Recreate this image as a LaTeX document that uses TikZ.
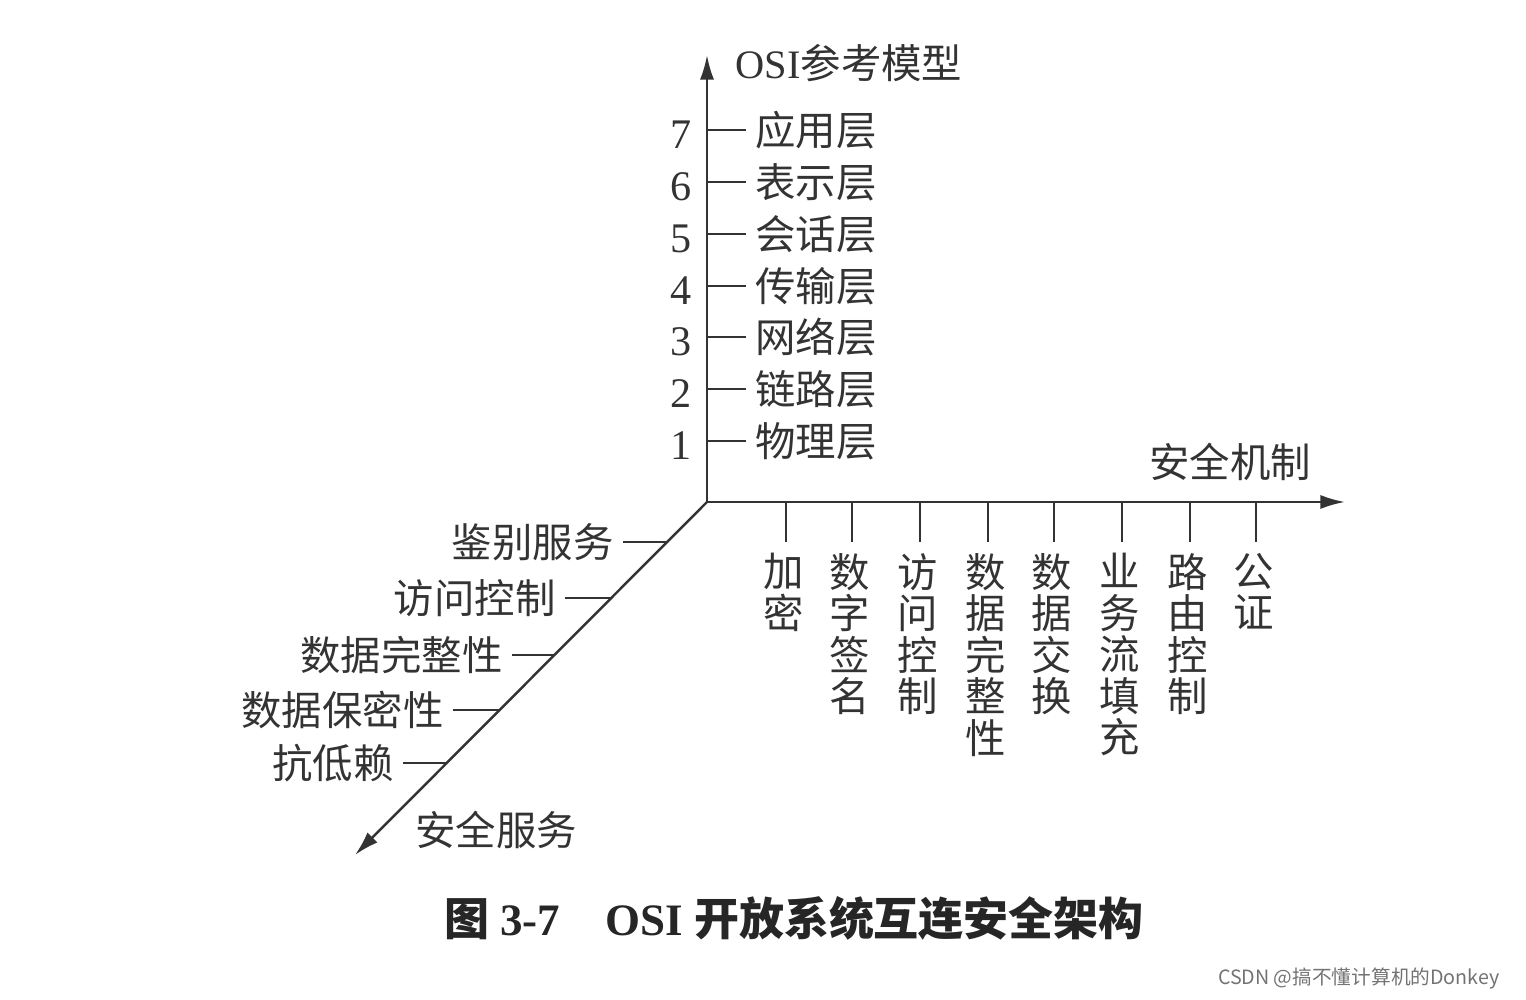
\documentclass[tikz,border=0pt]{standalone}
\usepackage{fontspec}
\setmainfont{Liberation Serif}
\newfontfamily\cjk{Noto Sans CJK SC}
\usetikzlibrary{arrows.meta}
\definecolor{ink}{gray}{0.2}

\begin{document}
\begin{tikzpicture}[axis/.style={-{Latex[length=7pt,width=4pt]}, line width=0.7pt, draw=ink}, tick/.style={line width=0.6pt, draw=ink}, lbl/.style={font=\cjk\fontsize{11.5}{13}\selectfont, text=ink, inner sep=0pt}, layer/.style={lbl, anchor=west, inner sep=2.5pt}, svc/.style={lbl, anchor=east, inner sep=2.5pt}, num/.style={font=\fontsize{12}{14}\selectfont, text=ink, inner sep=0pt}, col/.style={font=\cjk\fontsize{11.5}{11.8}\selectfont, text=ink, align=center, anchor=north, inner sep=3pt}]
            \useasboundingbox (0,0) rectangle (15.26,-10);
            % axes
            \coordinate (o) at (7.07,-5.02);
            \coordinate (ytop) at (7.07,-0.55);
            \coordinate (xend) at (13.45,-5.02);
            \coordinate (zend) at (3.55,-8.55);
            \node[lbl] (osi) at (8.49,-0.63) {{\rmfamily OSI}参考模型};
            \node[lbl] (mech) at (12.30,-4.62) {安全机制};
            \node[lbl] (serv) at (4.96,-8.30) {安全服务};

            % osi layers
            \coordinate (v7) at (7.07,-1.30);
            \coordinate (v6) at (7.07,-1.82);
            \coordinate (v5) at (7.07,-2.34);
            \coordinate (v4) at (7.07,-2.86);
            \coordinate (v3) at (7.07,-3.37);
            \coordinate (v2) at (7.07,-3.89);
            \coordinate (v1) at (7.07,-4.41);
            \node[layer] (l7) at (7.46,-1.30) {应用层};
            \node[layer] (l6) at (7.46,-1.82) {表示层};
            \node[layer] (l5) at (7.46,-2.34) {会话层};
            \node[layer] (l4) at (7.46,-2.86) {传输层};
            \node[layer] (l3) at (7.46,-3.37) {网络层};
            \node[layer] (l2) at (7.46,-3.89) {链路层};
            \node[layer] (l1) at (7.46,-4.41) {物理层};
            \node[num] (n7) at (6.81,-1.35) {7};
            \node[num] (n6) at (6.81,-1.87) {6};
            \node[num] (n5) at (6.81,-2.39) {5};
            \node[num] (n4) at (6.81,-2.91) {4};
            \node[num] (n3) at (6.81,-3.42) {3};
            \node[num] (n2) at (6.81,-3.94) {2};
            \node[num] (n1) at (6.81,-4.46) {1};

            % mechanisms
            \coordinate (h1) at (7.86,-5.02);
            \coordinate (h2) at (8.52,-5.02);
            \coordinate (h3) at (9.20,-5.02);
            \coordinate (h4) at (9.88,-5.02);
            \coordinate (h5) at (10.54,-5.02);
            \coordinate (h6) at (11.22,-5.02);
            \coordinate (h7) at (11.90,-5.02);
            \coordinate (h8) at (12.56,-5.02);
            \node[col] (m1) at (7.84,-5.42) {加\\密};
            \node[col] (m2) at (8.50,-5.42) {数\\字\\签\\名};
            \node[col] (m3) at (9.18,-5.42) {访\\问\\控\\制};
            \node[col] (m4) at (9.86,-5.42) {数\\据\\完\\整\\性};
            \node[col] (m5) at (10.52,-5.42) {数\\据\\交\\换};
            \node[col] (m6) at (11.20,-5.42) {业\\务\\流\\填\\充};
            \node[col] (m7) at (11.88,-5.42) {路\\由\\控\\制};
            \node[col] (m8) at (12.54,-5.42) {公\\证};

            % services
            \coordinate (d1) at (6.67,-5.42);
            \coordinate (d2) at (6.11,-5.98);
            \coordinate (d3) at (5.54,-6.55);
            \coordinate (d4) at (4.99,-7.10);
            \coordinate (d5) at (4.46,-7.63);
            \node[svc] (s1) at (6.23,-5.42) {鉴别服务};
            \node[svc] (s2) at (5.65,-5.98) {访问控制};
            \node[svc] (s3) at (5.12,-6.55) {数据完整性};
            \node[svc] (s4) at (4.53,-7.10) {数据保密性};
            \node[svc] (s5) at (4.03,-7.63) {抗低赖};

            % caption
            \node[font=\bfseries\fontsize{12.8}{14}\selectfont, text=black!85] (cap) at (7.94,-9.18) {{\cjk 图} 3-7\hspace{1em}OSI {\cjk 开放系统互连安全架构}};
            \node[font=\cjk\fontsize{5.6}{7}\selectfont, text=black!55, anchor=east] (wm) at (15.12,-9.78) {CSDN @搞不懂计算机的Donkey};

            % edges
            \draw [axis] (o) -- (ytop);
            \draw [axis] (o) -- (xend);
            \draw [axis] (o) -- (zend);
            \draw [tick] (v7) -- (l7.west);
            \draw [tick] (v6) -- (l6.west);
            \draw [tick] (v5) -- (l5.west);
            \draw [tick] (v4) -- (l4.west);
            \draw [tick] (v3) -- (l3.west);
            \draw [tick] (v2) -- (l2.west);
            \draw [tick] (v1) -- (l1.west);
            \draw [tick] (h1) -- (h1 |- m1.north);
            \draw [tick] (h2) -- (h2 |- m2.north);
            \draw [tick] (h3) -- (h3 |- m3.north);
            \draw [tick] (h4) -- (h4 |- m4.north);
            \draw [tick] (h5) -- (h5 |- m5.north);
            \draw [tick] (h6) -- (h6 |- m6.north);
            \draw [tick] (h7) -- (h7 |- m7.north);
            \draw [tick] (h8) -- (h8 |- m8.north);
            \draw [tick] (d1) -- (s1.east);
            \draw [tick] (d2) -- (s2.east);
            \draw [tick] (d3) -- (s3.east);
            \draw [tick] (d4) -- (s4.east);
            \draw [tick] (d5) -- (s5.east);
        \end{tikzpicture}
\end{document}
